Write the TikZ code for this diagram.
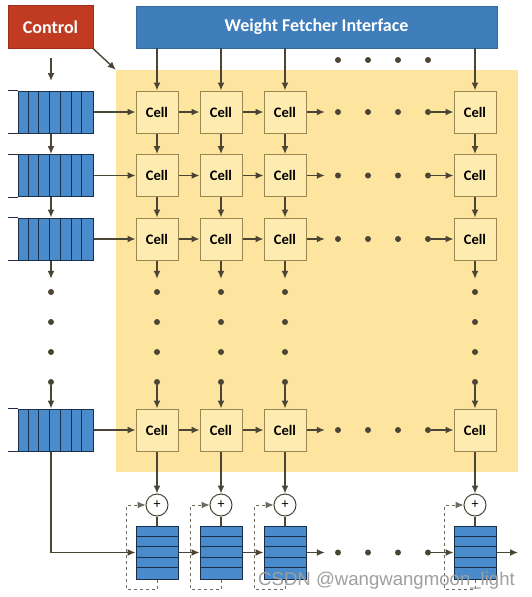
\documentclass[tikz,border=0pt]{standalone}
\usepackage{fontspec}
\setmainfont{Carlito}
\newfontfamily\markfont{Liberation Sans}
\usepackage{tikz}
\usetikzlibrary{positioning, calc, arrows.meta}
\definecolor{ctrlred}{HTML}{C13B23}
\definecolor{ctrlline}{HTML}{9E2E1A}
\definecolor{wfiblue}{HTML}{3F7EBA}
\definecolor{wfiline}{HTML}{346A9E}
\definecolor{bgyellow}{HTML}{FDE49F}
\definecolor{cellfill}{HTML}{FEEBB0}
\definecolor{cellline}{HTML}{9A8650}
\definecolor{arrowgray}{HTML}{4A4535}
\definecolor{fifoblue}{HTML}{4A8BCB}
\definecolor{fifoline}{HTML}{1C2F4A}
\tikzstyle{headbox} = [rectangle, text=white, inner sep=0pt,
font=\fontsize{18}{21}\selectfont\bfseries]
\tikzstyle{cellbox} = [rectangle, draw=cellline, fill=cellfill,
line width=1pt, minimum width=42pt, minimum height=42pt,
inner sep=0pt, font=\fontsize{14.5}{16}\selectfont\bfseries]
\tikzstyle{fifobox} = [rectangle, draw=fifoline, fill=fifoblue,
line width=1pt, minimum width=75pt, minimum height=42pt, inner sep=0pt]
\tikzstyle{accbox} = [rectangle, draw=fifoline, fill=fifoblue,
line width=1pt, minimum width=42pt, minimum height=53pt, inner sep=0pt]
\tikzstyle{adder} = [circle, draw=arrowgray, fill=white, line width=1pt,
minimum size=22pt, inner sep=0pt, font=\fontsize{14}{16}\selectfont]
\tikzstyle{dotmark} = [circle, fill=arrowgray, minimum size=6pt, inner sep=0pt]
\tikzstyle{flow} = [draw=arrowgray, line width=1.4pt,
-{Latex[length=8pt, width=7pt]}]
\tikzstyle{feedback} = [draw=arrowgray!80, dashed, line width=1pt,
-{Latex[length=8pt, width=7pt]}]

\begin{document}
\begin{tikzpicture}[x=1pt, y=-1pt]
	\useasboundingbox[fill=white] (0,0) rectangle (532,597);
	%% Headers
	\node[headbox, fill=ctrlred, draw=ctrlline, minimum width=85pt,
	minimum height=43pt] (ctrl) at (50.5,27) {Control};
	\node[headbox, fill=wfiblue, draw=wfiline, minimum width=361pt,
	minimum height=42pt] (wfi) at (316.5,27) {Weight Fetcher Interface};
	\node[fill=bgyellow, minimum width=402pt, minimum height=402pt,
	inner sep=0pt] (bg) at (317,271) {};
	\coordinate (spine) at (51,70);
	\coordinate (ctlA) at (51,58);
	\coordinate (ctlB) at (51,81);
	\coordinate (out) at (518,552.5);
	%% Cell array
	\foreach \c/\x in {1/157, 2/221, 3/285, 4/475}
	\foreach \r/\y in {1/112, 2/175.5, 3/239, 4/430}
	\node[cellbox] (cell\r\c) at (\x,\y) {Cell};
	%% Input queues
	\foreach \r/\y in {1/112, 2/175.5, 3/239, 4/430} {
		\node[fifobox] (fifo\r) at (55.5,\y) {};
		\foreach \k in {1,...,6}
		\draw[fifoline, line width=1pt] ($(fifo\r.north west)+(\k*10.7,0)$)
		-- ($(fifo\r.south west)+(\k*10.7,0)$);
		\draw[fifoline, line width=1pt] (fifo\r.north west) -- ++(-10,0)
		(fifo\r.south west) -- ++(-10,0);
	}
	%% Dots
	\foreach \k/\v in {1/338, 2/368, 3/398, 4/428} {
		\node[dotmark] (tdot\k) at (\v,60) {};
		\node[dotmark] (bdot\k) at (\v,552.5) {};
		\foreach \r/\y in {1/112, 2/175.5, 3/239, 4/430}
		\node[dotmark] (hdot\r\k) at (\v,\y) {};
	}
	\foreach \k/\v in {1/292, 2/322, 3/352, 4/382} {
		\node[dotmark] (ldot\k) at (51,\v) {};
		\foreach \c/\x in {1/157, 2/221, 3/285, 4/475}
		\node[dotmark] (vdot\c\k) at (\x,\v) {};
	}
	%% Control chain
	\draw[flow] (ctlA) -- (ctlB);
	\draw[flow] (ctrl.south east) -- (bg.north west);
	\draw[flow] (fifo1.south -| spine) -- (fifo2.north -| spine);
	\draw[flow] (fifo2.south -| spine) -- (fifo3.north -| spine);
	\draw[flow, shorten >=10pt] (fifo3.south -| spine) -- (ldot1);
	\draw[flow] (ldot4) -- (fifo4.north -| spine);
	%% Rows
	\foreach \r in {1,2,3,4} {
		\draw[flow] (fifo\r) -- (cell\r1);
		\draw[flow] (cell\r1) -- (cell\r2);
		\draw[flow] (cell\r2) -- (cell\r3);
		\draw[flow, shorten >=10pt] (cell\r3) -- (hdot\r1);
		\draw[flow] (hdot\r4) -- (cell\r4);
	}
	%% Columns and accumulators
	\foreach \c/\x in {1/157, 2/221, 3/285, 4/475} {
		\draw[flow] (wfi.south -| cell1\c) -- (cell1\c);
		\draw[flow] (cell1\c) -- (cell2\c);
		\draw[flow] (cell2\c) -- (cell3\c);
		\draw[flow, shorten >=10pt] (cell3\c) -- (vdot\c1);
		\draw[flow] (vdot\c4) -- (cell4\c);
		\node[adder] (add\c) at (\x,505) {+};
		\node[accbox] (acc\c) at (\x,552.5) {};
		\foreach \k in {1,...,4}
		\draw[fifoline, line width=1pt] ($(acc\c.north west)+(0,\k*10.6)$)
		-- ($(acc\c.north east)+(0,\k*10.6)$);
		\draw[flow] (cell4\c) -- (add\c);
		\draw[arrowgray, line width=1.4pt] (add\c) -- (acc\c);
		\draw[feedback] (acc\c.south) -- ++(0,10)
		-| ($(add\c.west)+(-19,0)$) -- (add\c.west);
	}
	%% Accumulator chain
	\draw[flow] (fifo4.south -| spine) |- (acc1.west);
	\draw[flow] (acc1) -- (acc2);
	\draw[flow] (acc2) -- (acc3);
	\draw[flow, shorten >=10pt] (acc3) -- (bdot1);
	\draw[flow] (bdot4) -- (acc4);
	\draw[flow] (acc4) -- (out);
	\node[anchor=base west, inner sep=0pt, text=gray!75,
	font=\markfont\fontsize{18.6}{20}\selectfont] (mark) at (258,585)
	{CSDN @wangwangmoon\_light};
\end{tikzpicture}
\end{document}
